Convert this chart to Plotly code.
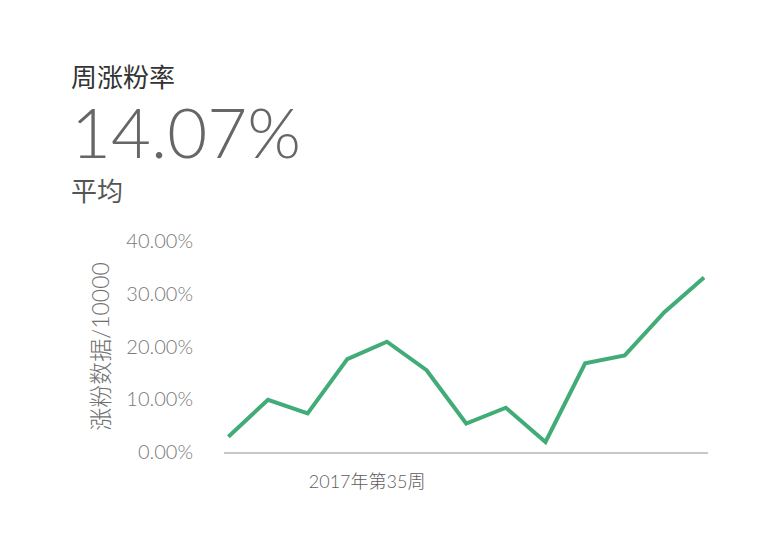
import plotly.graph_objects as go

weeks = ["第32周", "第33周", "第34周", "第35周", "第36周", "第37周", "第38周",
         "第39周", "第40周", "第41周", "第42周", "第43周", "第44周"]
rates = [2.9, 9.9, 7.3, 17.6, 20.9, 15.5, 5.4, 8.4, 1.9, 16.8, 18.3, 26.5, 33.1]
y_ticks = [0, 10, 20, 30, 40]
y_tick_labels = ["0.00%", "10.00%", "20.00%", "30.00%", "40.00%"]
x_label_pos = [3.5]
x_label_text = ["2017年第35周"]
title_text = "周涨粉率"
avg_text = "14.07%"
avg_caption = "平均"
y_title = "涨粉数据/10000"

x_idx = list(range(len(weeks)))

fig = go.Figure()
fig.add_trace(go.Scatter(
    x=x_idx, y=rates, mode="lines",
    line=dict(color="#42ac78", width=4),
    customdata=weeks, hovertemplate="%{customdata}: %{y:.2f}%<extra></extra>",
))

FONT = "Lato, 'Noto Sans CJK SC', sans-serif"

fig.update_layout(
    width=776, height=540,
    margin=dict(l=216, r=76, t=233, b=96),
    paper_bgcolor="white", plot_bgcolor="white",
    showlegend=False,
    font=dict(family=FONT),
    xaxis=dict(
        range=[-0.11, 12.1],
        tickvals=x_label_pos, ticktext=x_label_text,
        showgrid=False, zeroline=False,
        showline=True, linecolor="#c8c8c8", linewidth=2,
        ticks="", tickfont=dict(size=18, color="#5e5e5e", family=FONT, weight=300),
        ticklabelstandoff=12,
    ),
    yaxis=dict(
        range=[0, 40],
        tickvals=y_ticks, ticktext=y_tick_labels,
        showgrid=False, zeroline=False, showline=False,
        ticks="", tickfont=dict(size=20, color="#7a7a7a", family=FONT, weight=300),
        ticklabelstandoff=30,
        title=dict(text=y_title, font=dict(size=23, color="#707070", family=FONT, weight=300), standoff=10),
    ),
    annotations=[
        dict(text=title_text, xref="paper", yref="paper", x=-0.320, y=1.777,
             xanchor="left", yanchor="middle", showarrow=False,
             font=dict(size=26, color="#333333", family=FONT)),
        dict(text=avg_text, xref="paper", yref="paper", x=-0.321, y=1.517,
             xanchor="left", yanchor="middle", showarrow=False,
             font=dict(size=69, color="#666666", family=FONT, weight=300)),
        dict(text=avg_caption, xref="paper", yref="paper", x=-0.320, y=1.237,
             xanchor="left", yanchor="middle", showarrow=False,
             font=dict(size=26, color="#555555", family=FONT)),
    ],
)

fig.write_html("out.html")
